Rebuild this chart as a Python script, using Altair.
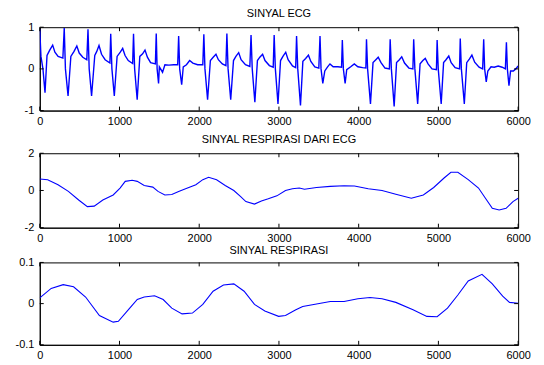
import altair as alt
import pandas as pd

# ---------------- data ----------------
ecg_x = [
    0, 15, 40, 66, 91, 125, 162, 190, 230, 290,
    307, 322, 355, 390, 430, 465, 495, 540, 590,
    605, 620, 650, 690, 715, 743, 775, 820, 880,
    890, 905, 935, 970, 1010, 1040, 1070, 1110, 1165,
    1176, 1190, 1222, 1255, 1290, 1320, 1350, 1390, 1450,
    1461, 1472, 1490, 1500, 1540, 1570, 1620, 1680, 1730,
    1742, 1755, 1780, 1800, 1840, 1880, 1920, 1980, 2045,
    2058, 2072, 2105, 2140, 2175, 2210, 2240, 2290, 2335,
    2347, 2362, 2395, 2430, 2460, 2495, 2525, 2580, 2635,
    2650, 2665, 2698, 2730, 2760, 2795, 2825, 2880, 2928,
    2940, 2955, 2988, 3020, 3050, 3085, 3115, 3170, 3210,
    3221, 3236, 3270, 3300, 3335, 3370, 3400, 3450, 3500,
    3515, 3528, 3550, 3575, 3610, 3640, 3680, 3740, 3785,
    3795, 3808, 3830, 3850, 3900, 3945, 3990, 4050, 4090,
    4098, 4112, 4148, 4180, 4215, 4245, 4280, 4330, 4385,
    4395, 4410, 4445, 4475, 4510, 4540, 4575, 4630, 4680,
    4690, 4705, 4740, 4770, 4805, 4835, 4870, 4920, 4975,
    4984, 4998, 5035, 5065, 5095, 5130, 5160, 5210, 5265,
    5274, 5288, 5325, 5355, 5390, 5420, 5455, 5510, 5555,
    5568, 5580, 5600, 5620, 5660, 5700, 5750, 5800, 5840,
    5853, 5865, 5885, 5905, 5940, 5970, 6000,
]
ecg_y = [
    0.95, 0.3, 0.0, -0.57, 0.32, 0.45, 0.57, 0.4, 0.3, 0.26,
    0.98, 0.0, -0.65, 0.3, 0.42, 0.55, 0.38, 0.28, 0.22,
    0.95, 0.0, -0.65, 0.32, 0.42, 0.56, 0.35, 0.22, 0.14,
    0.84, 0.0, -0.65, 0.3, 0.4, 0.49, 0.32, 0.2, 0.13,
    0.84, 0.0, -0.74, 0.3, 0.36, 0.45, 0.28, 0.15, 0.12,
    0.85, 0.0, -0.35, 0.05, -0.08, 0.1, 0.09, 0.1, 0.1,
    0.79, 0.0, -0.38, 0.05, 0.1, 0.2, 0.14, 0.1, 0.1,
    0.83, 0.0, -0.74, 0.2, 0.28, 0.35, 0.22, 0.12, 0.08,
    0.85, 0.0, -0.74, 0.2, 0.3, 0.39, 0.22, 0.1, 0.06,
    0.81, 0.0, -0.8, 0.2, 0.28, 0.35, 0.2, 0.08, 0.04,
    0.81, 0.0, -0.84, 0.2, 0.3, 0.4, 0.22, 0.07, 0.03,
    0.79, 0.0, -0.88, 0.18, 0.25, 0.33, 0.18, 0.05, 0.02,
    0.79, 0.0, -0.35, -0.05, 0.05, 0.12, 0.05, 0.05, 0.04,
    0.69, 0.0, -0.35, -0.02, 0.05, 0.12, 0.05, 0.03, 0.02,
    0.71, 0.0, -0.84, 0.15, 0.22, 0.28, 0.15, 0.02, 0.0,
    0.71, 0.0, -0.9, 0.15, 0.22, 0.29, 0.14, 0.02, 0.0,
    0.71, 0.0, -0.84, 0.12, 0.2, 0.25, 0.12, 0.0, -0.02,
    0.69, 0.0, -0.84, 0.15, 0.22, 0.31, 0.15, 0.03, 0.0,
    0.73, 0.0, -0.84, 0.15, 0.24, 0.33, 0.16, 0.04, 0.0,
    0.71, 0.0, -0.31, -0.05, 0.05, 0.04, 0.07, 0.04, 0.0,
    0.64, 0.0, -0.4, -0.05, -0.05, 0.0, 0.07,
]

resp_ecg_x = [0, 99, 229, 359, 488, 597, 683, 791, 921, 1007, 1072, 1159, 1223,
              1310, 1418, 1483, 1569, 1656, 1742, 1829, 1958, 2045, 2118, 2218,
              2326, 2434, 2520, 2585, 2693, 2780, 2866, 2974, 3082, 3169, 3255,
              3320, 3471, 3644, 3817, 3947, 4120, 4293, 4466, 4660, 4811, 4941,
              5071, 5157, 5244, 5374, 5503, 5590, 5676, 5762, 5849, 5935, 6000]
resp_ecg_y = [0.62, 0.58, 0.31, -0.05, -0.51, -0.87, -0.84, -0.51, -0.24, 0.13,
              0.49, 0.55, 0.49, 0.27, 0.18, -0.05, -0.24, -0.22, -0.05, 0.09,
              0.31, 0.58, 0.71, 0.58, 0.27, 0.0, -0.33, -0.6, -0.73, -0.56,
              -0.45, -0.29, 0.0, 0.09, 0.13, 0.07, 0.16, 0.22, 0.25, 0.24, 0.09,
              0.0, -0.2, -0.42, -0.24, 0.16, 0.67, 0.98, 0.98, 0.58, 0.13,
              -0.42, -0.96, -1.05, -0.96, -0.6, -0.42]

resp_x = [0, 143, 294, 424, 575, 748, 921, 986, 1115, 1223, 1310, 1440, 1548,
          1656, 1785, 1915, 2045, 2174, 2304, 2434, 2563, 2693, 2823, 2996,
          3082, 3212, 3298, 3471, 3644, 3817, 3990, 4142, 4293, 4466, 4682,
          4855, 4984, 5114, 5244, 5374, 5547, 5676, 5806, 5892, 6000]
resp_y = [0.014, 0.037, 0.046, 0.041, 0.016, -0.029, -0.045, -0.043, -0.014,
          0.01, 0.016, 0.019, 0.01, -0.011, -0.025, -0.023, -0.002, 0.03,
          0.045, 0.048, 0.03, -0.002, -0.018, -0.031, -0.029, -0.015, -0.007,
          -0.001, 0.005, 0.005, 0.012, 0.015, 0.012, 0.003, -0.015, -0.031,
          -0.032, -0.011, 0.021, 0.055, 0.071, 0.048, 0.018, 0.003, 0.001]

titles = ["SINYAL ECG", "SINYAL RESPIRASI DARI ECG", "SINYAL RESPIRASI"]
x_ticks = [0, 1000, 2000, 3000, 4000, 5000, 6000]
y_ticks_ecg = [-1, 0, 1]
y_ticks_resp_ecg = [-2, 0, 2]
y_ticks_resp = [-0.1, 0, 0.1]

# ---------------- chart ----------------
W = 482
FONT = "Liberation Sans"
BLUE = "#0000ff"
TICK = 4
LABEL_EXPR = "datum.value < 0 ? '-' + format(-datum.value, '~g') : format(datum.value, '~g')"


def panel(xs, ys, title, ydom, yticks, h, lw, toff):
    df = pd.DataFrame({"x": xs, "y": ys})
    xaxis = alt.Axis(values=x_ticks, ticks=False, grid=False, format="d",
                     labelPadding=5, labelFont=FONT, labelFontSize=11,
                     labelColor="black", domainColor="black",
                     labelFlush=False, labelOverlap=False)
    yaxis = alt.Axis(values=yticks, ticks=False, grid=False,
                     labelExpr=LABEL_EXPR,
                     labelPadding=6, labelFont=FONT, labelFontSize=11,
                     labelColor="black", domainColor="black",
                     labelFlush=False, labelOverlap=False)
    xscale = alt.Scale(domain=[0, 6000], nice=False, zero=False)
    yscale = alt.Scale(domain=ydom, nice=False, zero=False)
    line = alt.Chart(df).mark_line(color=BLUE, strokeWidth=lw, clip=True).encode(
        x=alt.X("x:Q", scale=xscale, axis=xaxis, title=None),
        y=alt.Y("y:Q", scale=yscale, axis=yaxis, title=None),
    )
    xt = pd.DataFrame({"x": x_ticks})
    yt = pd.DataFrame({"y": yticks})
    xbot = alt.Chart(xt).mark_rule(color="black", strokeWidth=1).encode(
        x=alt.X("x:Q", scale=xscale, axis=xaxis, title=None),
        y=alt.value(h), y2=alt.value(h - TICK))
    xtop = alt.Chart(xt).mark_rule(color="black", strokeWidth=1).encode(
        x=alt.X("x:Q", scale=xscale, axis=xaxis, title=None),
        y=alt.value(0), y2=alt.value(TICK))
    yl = alt.Chart(yt).mark_rule(color="black", strokeWidth=1).encode(
        y=alt.Y("y:Q", scale=yscale, axis=yaxis, title=None),
        x=alt.value(0), x2=alt.value(TICK))
    yr = alt.Chart(yt).mark_rule(color="black", strokeWidth=1).encode(
        y=alt.Y("y:Q", scale=yscale, axis=yaxis, title=None),
        x=alt.value(W), x2=alt.value(W - TICK))
    return alt.layer(line, xbot, xtop, yl, yr).properties(
        width=W, height=h,
        title=alt.TitleParams(title, font=FONT, fontSize=11, fontWeight="normal",
                              color="black", anchor="middle", frame="group",
                              offset=toff),
    )


p1 = panel(ecg_x, ecg_y, titles[0], [-1, 1], y_ticks_ecg, 84, 1.4, 2)
p2 = panel(resp_ecg_x, resp_ecg_y, titles[1], [-2, 2], y_ticks_resp_ecg, 75, 1.1, 2)
p3 = panel(resp_x, resp_y, titles[2], [-0.1, 0.1], y_ticks_resp, 83, 1.1, 0)

top_pair = alt.vconcat(p1, p2, spacing=6)
chart = alt.vconcat(top_pair, p3, spacing=0).properties(
    padding={"left": 6, "top": -2, "right": 5, "bottom": 2},
    background="white",
).configure_view(stroke="black", strokeWidth=1)

chart.save("out.html", embed_options={"renderer": "svg", "actions": False})
